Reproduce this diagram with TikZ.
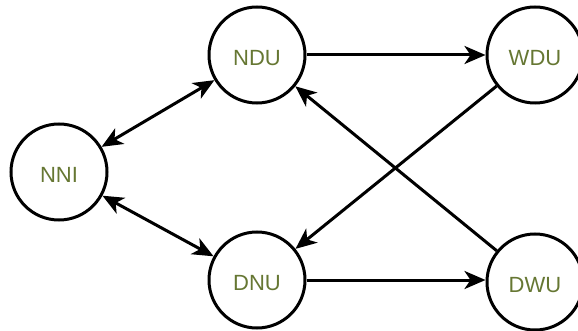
\documentclass[tikz,border=0pt]{standalone}
\usepackage{fontspec}
\setmainfont{Liberation Sans}
\usepackage{tikz}
\usetikzlibrary{arrows.meta}
\definecolor{olivetext}{RGB}{102,119,51}

\begin{document}
\begin{tikzpicture}[x=1pt, y=-1pt,
            state/.style={draw, circle, line width=3pt, minimum size=96pt, inner sep=0pt,
                text=olivetext, text height=21.5pt, text depth=0pt,
                font=\fontsize{22}{26}\selectfont},
            link/.style={line width=3pt, -{Stealth[length=21pt, width=18pt, inset=6pt]}},
            both/.style={line width=3pt, {Stealth[length=21pt, width=18pt, inset=6pt]}-{Stealth[length=21pt, width=18pt, inset=6pt]}}]
            \useasboundingbox (0,0) rectangle (578,331);
            \node[state] (NNI) at (59,172) {NNI};
            \node[state] (NDU) at (257,55) {NDU};
            \node[state] (DNU) at (257,280) {DNU};
            \node[state] (WDU) at (535,55) {WDU};
            \node[state] (DWU) at (535,282) {DWU};
            \draw[both] (NNI) -- (NDU);
            \draw[both] (NNI) -- (DNU);
            \draw[link] (NDU) -- (WDU);
            \draw[link] (DNU) -- (DNU -| DWU.west);
            \draw[link] (WDU) -- (DNU);
            \draw[link] (DWU) -- (NDU);
        \end{tikzpicture}
\end{document}
